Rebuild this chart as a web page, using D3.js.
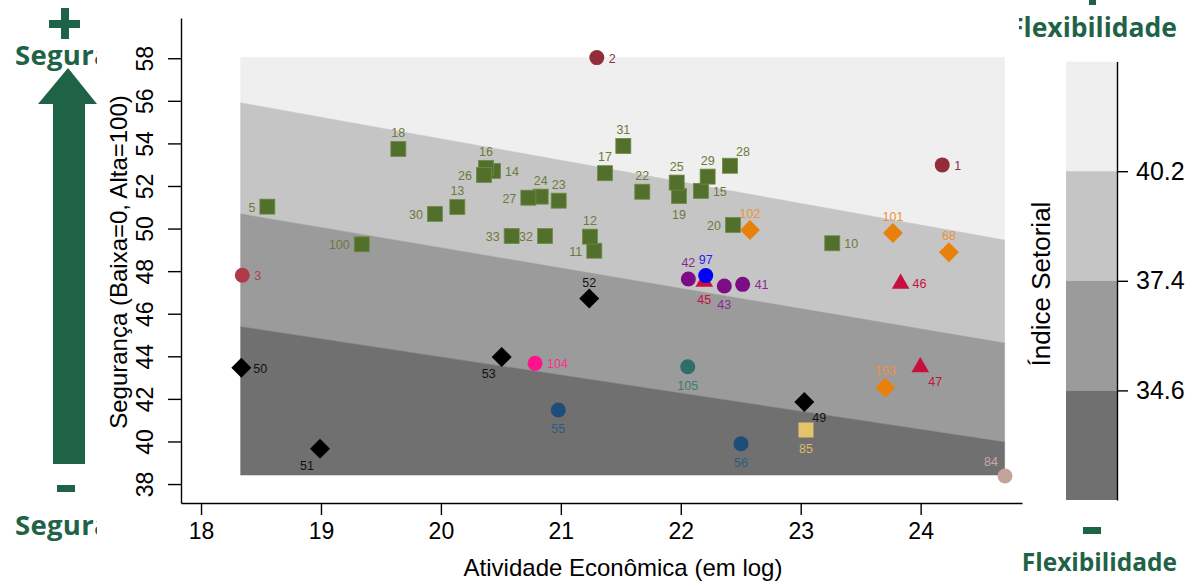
<!DOCTYPE html>
<html>
<head>
<meta charset="utf-8">
<script src="https://cdn.jsdelivr.net/npm/d3@7"></script>
<style>
  body { margin: 0; background: #fff; }
  text { font-family: "Liberation Sans", Arial, sans-serif; }
</style>
</head>
<body>
<div id="chart"></div>
<script>
// values
const pointIds = [1, 2, 3, 5, 10, 11, 12, 13, 14, 15, 16, 17, 18, 19, 20, 22, 23, 24, 25, 26, 27, 28, 29, 30, 31, 32, 33,
  41, 42, 43, 45, 46, 47, 49, 50, 51, 52, 53, 55, 56, 68, 84, 85, 97, 100, 101, 102, 103, 104, 105];
const activity = [24.18, 21.30, 18.344, 18.553, 23.263, 21.279, 21.243, 20.137, 20.434, 22.168, 20.376, 21.368, 19.645,
  21.985, 22.435, 21.679, 20.982, 20.832, 21.966, 20.359, 20.729, 22.410, 22.224, 19.951, 21.521, 20.868, 20.590,
  22.516, 22.063, 22.363, 22.196, 23.833, 23.997, 23.03, 18.336, 18.992, 21.237, 20.507, 20.979, 22.502, 24.236,
  24.703, 23.044, 22.208, 19.340, 23.769, 22.577, 23.705, 20.785, 22.058];
const security = [52.99, 58.03, 47.81, 51.03, 49.31, 48.96, 49.62, 51.01, 52.71, 51.77, 52.85, 52.60, 53.74,
  51.53, 50.17, 51.73, 51.31, 51.50, 52.16, 52.52, 51.45, 52.95, 52.44, 50.69, 53.88, 49.65, 49.65,
  47.38, 47.63, 47.30, 47.55, 47.46, 43.54, 41.85, 43.46, 39.66, 46.71, 43.97, 41.48, 39.89, 48.89,
  38.38, 40.54, 47.79, 49.26, 49.79, 49.93, 42.54, 43.67, 43.51];
const pointGroup = ['maroon', 'maroon', 'red', 'green', 'green', 'green', 'green', 'green', 'green', 'green', 'green', 'green', 'green',
  'green', 'green', 'green', 'green', 'green', 'green', 'green', 'green', 'green', 'green', 'green', 'green', 'green', 'green',
  'purple', 'purple', 'purple', 'crimson', 'crimson', 'crimson', 'black', 'black', 'black', 'black', 'black', 'navy', 'navy', 'orange',
  'rose', 'khaki', 'blue', 'green', 'orange', 'orange', 'orange', 'pink', 'teal'];
// label position, clock style
const labelClock = [3, 3, 3, 9, 3, 9, 12, 12, 3, 3, 12, 12, 12,
  6, 9, 12, 12, 12, 12, 9, 9, 1, 12, 9, 12, 9, 9,
  3, 12, 6, 6, 3, 4, 4, 3, 7, 12, 7, 6, 6, 12,
  11, 6, 12, 9, 12, 12, 12, 3, 6];

// shaded index bands (straight edges)
const bandLevels = [40.2, 37.4, 34.6];
const bandEdgeX = [18.33, 24.70];
const bandLeftY = [55.91, 50.69, 45.39];
const bandRightY = [49.46, 44.62, 39.97];
const regionY = [38.42, 58.05];
const colorbarDomain = [31.8, 43.0];

const xTicks = [18, 19, 20, 21, 22, 23, 24];
const yTicks = [38, 40, 42, 44, 46, 48, 50, 52, 54, 56, 58];

const bandColors = ['#efefef', '#c5c5c5', '#9b9b9b', '#707070'];
const green = '#1f6347';

const groupStyle = {
  green:   {shape: 'square',   fill: '#526f2b', stroke: '#6f8c48', label: '#6b7b3a'},
  maroon:  {shape: 'circle',   fill: '#922e3a', stroke: 'none',    label: '#8f2f3f'},
  red:     {shape: 'circle',   fill: '#b23a48', stroke: 'none',    label: '#b0404d'},
  orange:  {shape: 'diamond',  fill: '#e8810c', stroke: 'none',    label: '#ee923a'},
  black:   {shape: 'diamond',  fill: '#000000', stroke: 'none',    label: '#111111'},
  crimson: {shape: 'triangle', fill: '#c8103f', stroke: 'none',    label: '#c8103f'},
  purple:  {shape: 'circle',   fill: '#7d0d84', stroke: 'none',    label: '#8a2a90'},
  blue:    {shape: 'circle',   fill: '#0000ff', stroke: 'none',    label: '#2020ff'},
  pink:    {shape: 'circle',   fill: '#ff138a', stroke: 'none',    label: '#ff2e8f'},
  teal:    {shape: 'circle',   fill: '#2e7068', stroke: 'none',    label: '#3f7a72'},
  navy:    {shape: 'circle',   fill: '#1e4d7b', stroke: 'none',    label: '#2f5a85'},
  khaki:   {shape: 'square',   fill: '#e3c46b', stroke: 'none',    label: '#d9bd66'},
  rose:    {shape: 'circle',   fill: '#c4a39c', stroke: 'none',    label: '#c8aaa3'}
};

const clockOffset = {
  12: [0, -16, 'middle'], 3: [12, 1, 'start'], 9: [-12, 1, 'end'], 6: [0, 19, 'middle'],
  1: [13, -14, 'middle'], 4: [15, 16, 'middle'], 7: [-13, 17, 'middle'], 11: [-14, -14, 'middle']
};

const W = 1200, H = 584;
const svg = d3.select('#chart')
  .append('svg')
    .attr('width', W)
    .attr('height', H);

const x = d3.scaleLinear().domain([17.833, 24.845]).range([181, 1022]);
const y = d3.scaleLinear().domain([37.11, 59.89]).range([503, 18]);

// bands
const edges = [[regionY[1], regionY[1]]]
  .concat(bandLeftY.map((v, i) => [v, bandRightY[i]]))
  .concat([[regionY[0], regionY[0]]]);

for (let i = 0; i < 4; i++) {
  const top = edges[i], bot = edges[i + 1];
  const pts = [
    [x(bandEdgeX[0]), y(top[0])], [x(bandEdgeX[1]), y(top[1])],
    [x(bandEdgeX[1]), y(bot[1])], [x(bandEdgeX[0]), y(bot[0])]
  ];
  svg.append('path')
    .attr('d', 'M' + pts.join('L') + 'Z')
    .attr('fill', bandColors[i])
    .attr('stroke', bandColors[i])
    .attr('stroke-width', 0.5);
}

// axes
const xAxis = svg.append('g')
  .attr('transform', 'translate(0,503)')
  .call(d3.axisBottom(x).tickValues(xTicks).tickFormat(d3.format('d'))
    .tickSize(12).tickSizeOuter(0).tickPadding(8));
xAxis.selectAll('text').attr('font-size', 23).attr('fill', '#000');

const yAxis = svg.append('g')
  .attr('transform', 'translate(181,0)')
  .call(d3.axisLeft(y).tickValues(yTicks).tickSize(13).tickSizeOuter(0));
yAxis.selectAll('text')
  .attr('x', null).attr('dy', null)
  .attr('text-anchor', 'middle')
  .attr('transform', 'translate(-28,0) rotate(-90)')
  .attr('font-size', 23).attr('fill', '#000');

svg.selectAll('.domain, .tick line').attr('stroke', '#000').attr('stroke-width', 1.4);

svg.append('text')
  .attr('x', 623).attr('y', 576)
  .attr('text-anchor', 'middle')
  .attr('font-size', 24)
  .text('Atividade Econômica (em log)');

svg.append('text')
  .attr('transform', 'translate(127,262) rotate(-90)')
  .attr('text-anchor', 'middle')
  .attr('font-size', 24)
  .text('Segurança (Baixa=0, Alta=100)');

// points
const pts = pointIds.map((id, i) => ({
  id: id, x: activity[i], y: security[i], g: groupStyle[pointGroup[i]], pos: labelClock[i]
}));

const marks = svg.append('g');
pts.forEach(d => {
  const cx = x(d.x), cy = y(d.y), s = d.g;
  if (s.shape === 'square') {
    marks.append('rect')
      .attr('x', cx - 7.5).attr('y', cy - 7.5).attr('width', 15).attr('height', 15)
      .attr('fill', s.fill).attr('stroke', s.stroke).attr('stroke-width', 0.8);
  } else if (s.shape === 'circle') {
    marks.append('circle').attr('cx', cx).attr('cy', cy).attr('r', 7.5).attr('fill', s.fill);
  } else if (s.shape === 'diamond') {
    marks.append('path')
      .attr('d', d3.symbol(d3.symbolSquare, 200)())
      .attr('transform', `translate(${cx},${cy}) rotate(45)`)
      .attr('fill', s.fill);
  } else {
    marks.append('path')
      .attr('d', d3.symbol(d3.symbolTriangle, 135)())
      .attr('transform', `translate(${cx},${cy + 1})`)
      .attr('fill', s.fill);
  }
  const o = clockOffset[d.pos];
  marks.append('text')
    .attr('x', cx + o[0]).attr('y', cy + o[1])
    .attr('text-anchor', o[2])
    .attr('dominant-baseline', 'central')
    .attr('font-size', 12.5)
    .attr('fill', s.label)
    .text(d.id);
});

// colour bar
const cb = d3.scaleLinear().domain(colorbarDomain).range([500, 61.6]);
const cbStops = [colorbarDomain[1]].concat(bandLevels).concat([colorbarDomain[0]]);
for (let i = 0; i < 4; i++) {
  svg.append('rect')
    .attr('x', 1066).attr('width', 51)
    .attr('y', cb(cbStops[i])).attr('height', cb(cbStops[i + 1]) - cb(cbStops[i]))
    .attr('fill', bandColors[i]);
}
const cbAxis = svg.append('g')
  .attr('transform', 'translate(1117,0)')
  .call(d3.axisRight(cb).tickValues(bandLevels).tickSize(11).tickSizeOuter(0).tickPadding(8).tickFormat(d3.format('.1f')));
cbAxis.selectAll('text').attr('font-size', 25).attr('fill', '#000');
cbAxis.selectAll('.domain, .tick line').attr('stroke', '#000').attr('stroke-width', 1.4);

svg.append('text')
  .attr('transform', 'translate(1050,284) rotate(-90)')
  .attr('text-anchor', 'middle')
  .attr('font-size', 26)
  .text('Índice Setorial');

// green side annotations
const defs = svg.append('defs');
defs.append('clipPath').attr('id', 'clipL')
  .append('rect').attr('x', 0).attr('y', 0).attr('width', 97).attr('height', H);
defs.append('clipPath').attr('id', 'clipR')
  .append('rect').attr('x', 1019).attr('y', 0).attr('width', 181).attr('height', H);

const left = svg.append('g').attr('clip-path', 'url(#clipL)').attr('fill', green);
left.append('rect').attr('x', 61).attr('y', 8).attr('width', 8).attr('height', 31);
left.append('rect').attr('x', 49).attr('y', 20).attr('width', 31).attr('height', 8);
left.append('path')
  .attr('d', 'M68,68 L97,104 L85,104 L85,464 L53,464 L53,104 L38,104 Z');
left.append('rect').attr('x', 57).attr('y', 485).attr('width', 18).attr('height', 7);
left.selectAll('text.seg')
  .data([65, 535])
  .enter().append('text')
    .attr('x', 15).attr('y', d => d)
    .style('font-family', '"Open Sans", sans-serif')
    .style('letter-spacing', '0.3px')
    .attr('font-weight', 'bold').attr('font-size', 27.5)
    .text('Segurança');

const right = svg.append('g').attr('clip-path', 'url(#clipR)').attr('fill', green);
right.append('rect').attr('x', 1089).attr('y', 0).attr('width', 7).attr('height', 5);
right.append('rect').attr('x', 1083).attr('y', 527).attr('width', 18).attr('height', 7);
right.selectAll('text.flex')
  .data([{y: 37, size: 26.5}, {y: 571, size: 24.5}])
  .enter().append('text')
    .attr('x', 1177).attr('y', d => d.y)
    .attr('text-anchor', 'end')
    .style('font-family', '"Open Sans", sans-serif')
    .attr('font-weight', 'bold').attr('font-size', d => d.size)
    .text('Flexibilidade');
</script>
</body>
</html>
